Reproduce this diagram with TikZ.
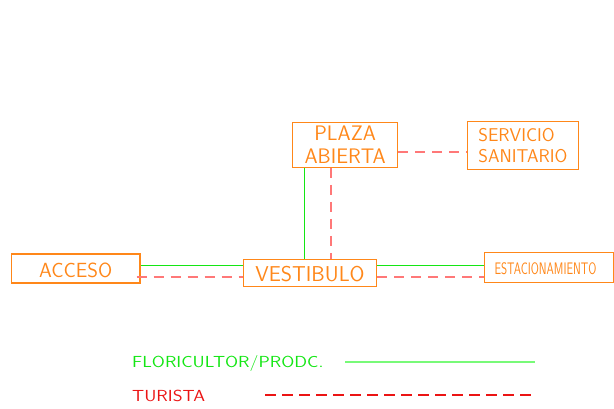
\documentclass[tikz,border=0pt]{standalone}
\usepackage{fontspec}
\usepackage{tikz}

\definecolor{cadorange}{RGB}{255,135,25}
\definecolor{cadgreen}{RGB}{20,230,20}
\definecolor{cadsalmon}{RGB}{255,120,120}
\definecolor{legendgreen}{RGB}{120,250,120}
\definecolor{legendred}{RGB}{235,20,20}

\begin{document}
\begin{tikzpicture}[x=1pt,y=1pt,yscale=-1,xscale=1,
  zone/.style={draw=cadorange,line width=1.3pt,text=cadorange,inner sep=0pt,font=\sffamily},
  floric/.style={draw=cadgreen,line width=1.5pt},
  turista/.style={draw=cadsalmon,line width=2pt,dash pattern=on 10pt off 7pt},
  legtext/.style={anchor=west,inner sep=0pt,font=\sffamily\fontsize{16}{16}\selectfont,xscale=1.18}]
\useasboundingbox (0,0) rectangle (614,409);
%Zones
\node[zone,minimum width=105pt,minimum height=45pt,align=center,font=\sffamily\fontsize{21}{23.5}\selectfont] (plaza) at (345.2,144.8) {PLAZA\\ABIERTA};
\node[zone,minimum width=110.6pt,minimum height=47.6pt,align=left,font=\sffamily\fontsize{18.5}{21}\selectfont] (servicio) at (523,145.5) {SERVICIO\\SANITARIO};
\node[zone,minimum width=128.7pt,minimum height=29pt,text height=19pt,text depth=0pt,font=\sffamily\fontsize{20.5}{20.5}\selectfont] (acceso) at (75.7,268.5) {ACCESO};
\node[zone,minimum width=133.4pt,minimum height=27pt,text height=17.7pt,text depth=0pt,font=\sffamily\fontsize{21.5}{21.5}\selectfont] (vestibulo) at (310,272.8) {VESTIBULO};
\node[zone,minimum width=129pt,minimum height=30.4pt] (estac) at (549.2,267.5) {};
\node[text=cadorange,inner sep=0pt,font=\sffamily\fontsize{16.7}{16.7}\selectfont,xscale=0.7] (estactext) at (545.5,268.5) {ESTACIONAMIENTO};
%Floricultor / productor
\draw[floric] ([xshift=-40.5pt]plaza.south) coordinate (gv) -- (gv |- vestibulo.north);
\draw[floric] ([yshift=-3pt]acceso.east) coordinate (gl) -- (gl -| vestibulo.west);
\draw[floric] ([yshift=-7.3pt]vestibulo.east) coordinate (gr) -- (gr -| estac.west);
%Turista
\draw[turista] ([xshift=-14.2pt]plaza.south) coordinate (tv) -- (tv |- vestibulo.north);
\draw[turista] ([yshift=6.9pt]plaza.east) coordinate (tp) -- (tp -| servicio.west);
\draw[turista] ([xshift=-4pt,yshift=8.5pt]acceso.east) coordinate (tl) -- (tl -| vestibulo.west);
\draw[turista] ([yshift=3.9pt]vestibulo.east) coordinate (tr) -- (tr -| estac.west);
%Legend
\node[legtext,text=cadgreen] (legfloric) at (132,363) {FLORICULTOR/PRODC.};
\node[legtext,text=legendred] (legturista) at (132,396) {TURISTA};
\coordinate (ga) at (345,362);
\coordinate (gb) at (535,362);
\coordinate (ra) at (265,395);
\coordinate (rb) at (535,395);
\draw[draw=legendgreen,line width=2pt] (ga) -- (gb);
\draw[draw=legendred,line width=1.5pt,dash pattern=on 11pt off 6pt] (ra) -- (rb);
\end{tikzpicture}
\end{document}
